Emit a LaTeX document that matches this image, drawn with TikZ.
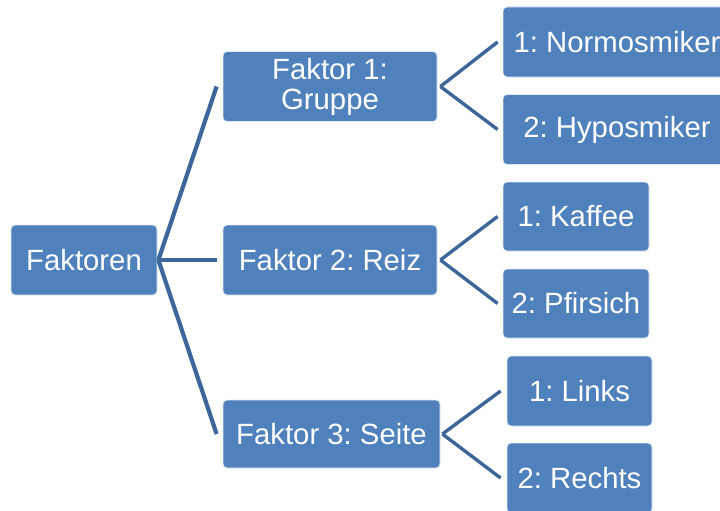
\documentclass[tikz,border=0pt]{standalone}
\usepackage{fontspec}
\setmainfont{Liberation Sans}
\definecolor{boxblue}{HTML}{4F81BD}
\definecolor{linkblue}{HTML}{3D679A}
\begin{document}
\frenchspacing
\begin{tikzpicture}[x=1pt,y=-1pt,
  box/.style={rectangle, fill=boxblue, draw=white!85!boxblue, line width=0.8pt,
    rounded corners=4pt, text=white, inner sep=0pt, align=center,
    font=\fontsize{29.3}{30}\selectfont},
  linkA/.style={draw=linkblue, line width=4.2pt},
  linkB/.style={draw=linkblue, line width=3.4pt}]
\useasboundingbox (0,0) rectangle (720,511);
\clip (0,0) rectangle (720,511);
\node[box, minimum width=146pt, minimum height=70pt] (f0) at (84,260) {Faktoren};
\node[box, minimum width=214pt, minimum height=70pt] (f1) at (330,86.5) {Faktor 1:\\Gruppe};
\node[box, minimum width=214pt, minimum height=70pt] (f2) at (330,260) {Faktor 2: Reiz};
\node[box, minimum width=217pt, minimum height=68pt] (f3) at (331.5,434) {Faktor 3: Seite};
\node[box, minimum width=228pt, minimum height=70pt] (a1) at (617,42) {1: Normosmiker};
\node[box, minimum width=228pt, minimum height=70pt] (a2) at (617,129.5) {2: Hyposmiker};
\node[box, minimum width=146pt, minimum height=69pt] (b1) at (576,216.5) {1: Kaffee};
\node[box, minimum width=146pt, minimum height=69pt] (b2) at (576,303.5) {2: Pfirsich};
\node[box, minimum width=145pt, minimum height=70pt] (c1) at (579.5,391) {1: Links};
\node[box, minimum width=145pt, minimum height=70pt] (c2) at (579.5,478) {2: Rechts};
\coordinate (r0) at ([xshift=1pt]f0.east);
\draw[linkA] (r0) -- ([xshift=-6pt]f1.west);
\draw[linkA] (r0) -- ([xshift=-6pt]f2.west);
\draw[linkA] (r0) -- ([xshift=-6pt]f3.west);
\coordinate (r1) at ([xshift=3pt]f1.east);
\draw[linkB] (r1) -- ([xshift=-5pt]a1.west);
\draw[linkB] (r1) -- ([xshift=-5pt]a2.west);
\coordinate (r2) at ([xshift=3pt]f2.east);
\draw[linkB] (r2) -- ([xshift=-5pt]b1.west);
\draw[linkB] (r2) -- ([xshift=-5pt]b2.west);
\coordinate (r3) at ([xshift=2pt]f3.east);
\draw[linkB] (r3) -- ([xshift=-6pt]c1.west);
\draw[linkB] (r3) -- ([xshift=-6pt]c2.west);
\end{tikzpicture}
\end{document}
